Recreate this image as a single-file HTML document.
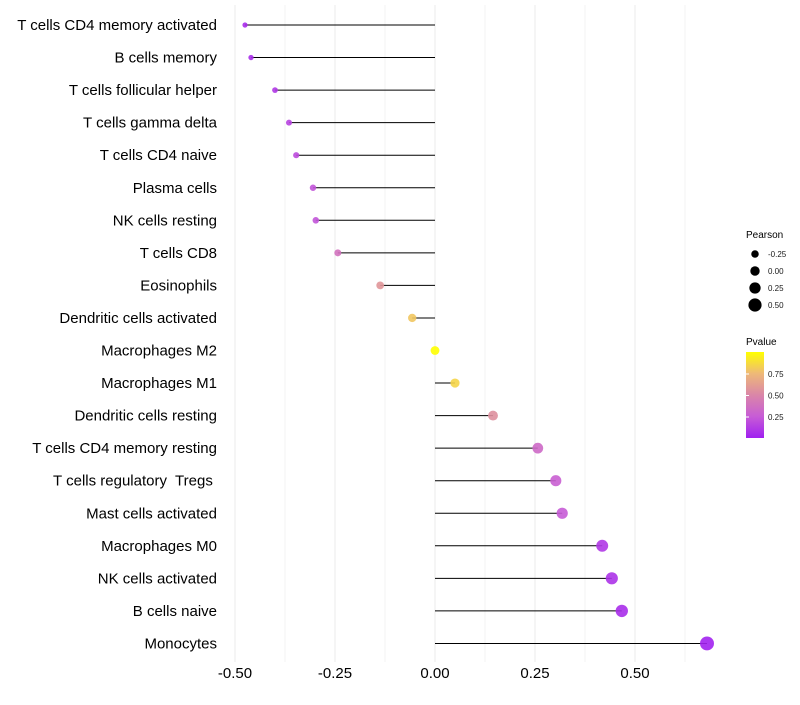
<!DOCTYPE html>
<html><head><meta charset="utf-8"><style>
body{margin:0;background:#fff;font-family:"Liberation Sans",sans-serif}
svg text{font-family:"Liberation Sans",sans-serif;white-space:pre}
</style></head><body>
<svg id="chart" width="800" height="700" xmlns="http://www.w3.org/2000/svg">
<g id="grid"></g>
<g id="marks"></g>
<g id="ylabels"></g>
<g id="xlabels"></g>
<g>
<text x="746" y="238" font-size="10" fill="#000">Pearson</text>
</g>
<g id="sizeLegend"></g>
<g>
<text x="746" y="345" font-size="10" fill="#000">Pvalue</text>
<defs><linearGradient id="pg" x1="0" y1="1" x2="0" y2="0">
<stop offset="0" stop-color="#a020f0"/><stop offset="0.25" stop-color="#c75cd6"/><stop offset="0.5" stop-color="#da86a8"/><stop offset="0.75" stop-color="#eeb978"/><stop offset="1" stop-color="#ffff00"/></linearGradient></defs>
<rect x="746" y="352" width="18" height="86" fill="url(#pg)"/>
</g>
<g id="colorLegend"></g>
</svg>
<script>
const categories=["T cells CD4 memory activated","B cells memory","T cells follicular helper","T cells gamma delta","T cells CD4 naive","Plasma cells","NK cells resting","T cells CD8","Eosinophils","Dendritic cells activated","Macrophages M2","Macrophages M1","Dendritic cells resting","T cells CD4 memory resting","T cells regulatory  Tregs ","Mast cells activated","Macrophages M0","NK cells activated","B cells naive","Monocytes"];
const pearson=[-0.475,-0.46,-0.40,-0.365,-0.347,-0.305,-0.298,-0.243,-0.137,-0.057,0.0,0.05,0.145,0.257,0.302,0.318,0.418,0.442,0.467,0.68];
const pvalues=[0.05,0.06,0.1,0.15,0.18,0.22,0.22,0.38,0.58,0.8,1.0,0.85,0.55,0.33,0.27,0.25,0.1,0.08,0.06,0.01];
const xTicks=[-0.5,-0.25,0,0.25,0.5];
const xTickLabels=["-0.50","-0.25","0.00","0.25","0.50"];
const sizeLegendValues=[-0.25,0,0.25,0.5];
const sizeLegendLabels=["-0.25","0.00","0.25","0.50"];
const colorLegendValues=[0.25,0.5,0.75];
const colorLegendLabels=["0.25","0.50","0.75"];

const NS="http://www.w3.org/2000/svg";
const x=v=>435+v*400;
const y=i=>25+i*32.55;
const r=v=>4.4+3.8*v;
const stops=[[0,[160,32,240]],[0.25,[199,92,214]],[0.5,[218,134,168]],[0.75,[238,185,120]],[1,[255,255,0]]];
function col(p){for(let k=1;k<stops.length;k++){if(p<=stops[k][0]){const a=stops[k-1],b=stops[k],t=(p-a[0])/(b[0]-a[0]);return "rgb("+a[1].map((c,j)=>Math.round(c+(b[1][j]-c)*t)).join(",")+")";}}return "rgb(255,255,0)";}
function mk(tag,attrs,parent){const e=document.createElementNS(NS,tag);for(const k in attrs)e.setAttribute(k,attrs[k]);parent.appendChild(e);return e;}
const grid=document.getElementById('grid'),marks=document.getElementById('marks'),yl=document.getElementById('ylabels'),xl=document.getElementById('xlabels');
for(let v=-0.5;v<=0.626;v+=0.125){const g=mk('line',{x1:x(v),x2:x(v),y1:5,y2:662,stroke:'#ebebeb','stroke-width':Math.abs((v*4)-Math.round(v*4))<1e-6?1:0.6},grid);

}
categories.forEach((c,i)=>{
const l=mk('line',{x1:x(0),x2:x(pearson[i]),y1:y(i),y2:y(i),stroke:'#000','stroke-width':1},marks);


const d=mk('circle',{cx:x(pearson[i]),cy:y(i),r:r(pearson[i]),fill:col(pvalues[i]),'fill-opacity':0.9},marks);


const t=mk('text',{x:217,y:y(i)+5,'text-anchor':'end','font-size':15,fill:'#000'},yl);
t.textContent=c;


});
xTicks.forEach((v,i)=>{const t=mk('text',{x:x(v),y:678,'text-anchor':'middle','font-size':15,fill:'#000'},xl);
t.textContent=xTickLabels[i];

});
const sl=document.getElementById('sizeLegend');
sizeLegendValues.forEach((v,i)=>{const cy=254+i*17;
const c=mk('circle',{cx:755,cy:cy,r:r(v)+0.3,fill:'#000'},sl);


const t=mk('text',{x:768,y:cy+3,'font-size':8,fill:'#1a1a1a'},sl);
t.textContent=sizeLegendLabels[i];

});
const cl=document.getElementById('colorLegend');
colorLegendValues.forEach((v,i)=>{const cy=438.5-v*86;
const a=mk('line',{x1:746,x2:749,y1:cy,y2:cy,stroke:'#fff'},cl);


const t=mk('text',{x:768,y:cy+3,'font-size':8,fill:'#1a1a1a'},cl);
t.textContent=colorLegendLabels[i];

});
</script>
</body></html>
